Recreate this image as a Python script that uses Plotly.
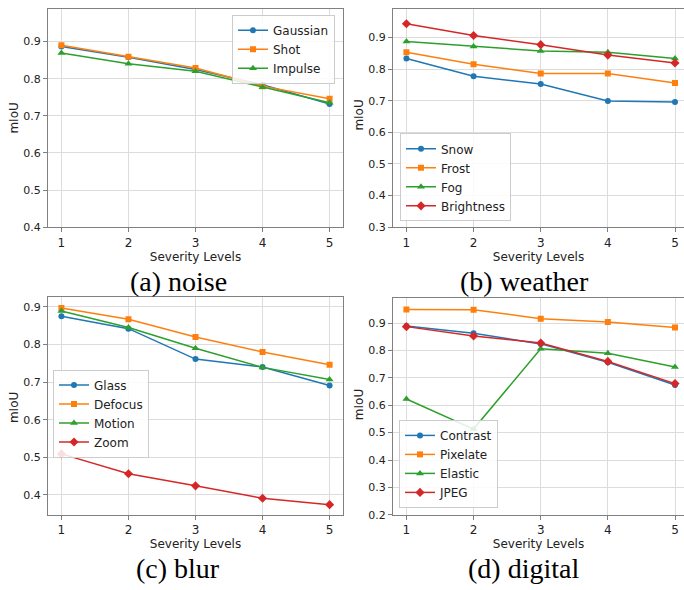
import plotly.graph_objects as go

levels = [1, 2, 3, 4, 5]

# (a) noise
gaussian = [0.887, 0.858, 0.825, 0.784, 0.732]
shot = [0.890, 0.859, 0.829, 0.780, 0.746]
impulse = [0.869, 0.840, 0.820, 0.777, 0.735]

# (b) weather
snow = [0.833, 0.777, 0.753, 0.699, 0.696]
frost = [0.853, 0.815, 0.786, 0.786, 0.756]
fog = [0.887, 0.871, 0.857, 0.853, 0.833]
brightness = [0.943, 0.906, 0.877, 0.844, 0.819]

# (c) blur
glass = [0.875, 0.842, 0.761, 0.740, 0.691]
defocus = [0.897, 0.867, 0.820, 0.780, 0.746]
motion = [0.889, 0.845, 0.790, 0.739, 0.707]
zoom = [0.509, 0.456, 0.424, 0.391, 0.374]

# (d) digital
contrast = [0.889, 0.863, 0.824, 0.757, 0.674]
pixelate = [0.950, 0.949, 0.916, 0.904, 0.884]
elastic = [0.623, 0.513, 0.806, 0.790, 0.740]
jpeg = [0.887, 0.853, 0.827, 0.760, 0.679]

captions = ["(a) noise", "(b) weather", "(c) blur", "(d) digital"]

C = ["#1f77b4", "#ff7f0e", "#2ca02c", "#d62728"]
SYM = ["circle", "square", "triangle-up", "diamond"]
MS = [6, 6, 7, 7]

W, H = 684, 590

panels = [
    ([("Gaussian", gaussian), ("Shot", shot), ("Impulse", impulse)], "x", "y", "legend"),
    ([("Snow", snow), ("Frost", frost), ("Fog", fog), ("Brightness", brightness)], "x2", "y2", "legend2"),
    ([("Glass", glass), ("Defocus", defocus), ("Motion", motion), ("Zoom", zoom)], "x3", "y3", "legend3"),
    ([("Contrast", contrast), ("Pixelate", pixelate), ("Elastic", elastic), ("JPEG", jpeg)], "x4", "y4", "legend4"),
]

fig = go.Figure()
for series, xa, ya, lg in panels:
    for i, (name, vals) in enumerate(series):
        fig.add_trace(go.Scatter(
            x=levels, y=vals, name=name, mode="lines+markers",
            xaxis=xa, yaxis=ya, legend=lg,
            line=dict(color=C[i], width=1.5),
            marker=dict(color=C[i], symbol=SYM[i], size=MS[i]),
        ))

FONT = "DejaVu Sans"
SPINE = "#808080"
GRID = "#dcdcdc"

def xd(a, b):
    return [a / W, b / W]

def yd(top, bot):
    return [1 - bot / H, 1 - top / H]

def xaxis(dom, rng, anchor):
    return dict(domain=dom, range=rng, anchor=anchor, tickvals=levels,
                showgrid=True, gridcolor=GRID, gridwidth=1,
                showline=True, linecolor=SPINE, linewidth=1, mirror=True,
                ticks="outside", ticklen=4, tickcolor=SPINE,
                tickfont=dict(family=FONT, size=12, color="#222"),
                title=dict(text="Severity Levels", standoff=2,
                           font=dict(family=FONT, size=12, color="#222")),
                zeroline=False)

def yaxis(dom, rng, anchor, mirror=True):
    return dict(domain=dom, range=rng, anchor=anchor, dtick=0.1, tick0=0,
                tickformat=".1f",
                showgrid=True, gridcolor=GRID, gridwidth=1,
                showline=True, linecolor=SPINE, linewidth=1, mirror=mirror,
                ticks="outside", ticklen=4, tickcolor=SPINE,
                tickfont=dict(family=FONT, size=11, color="#222"),
                zeroline=False)

leg_common = dict(bgcolor="rgba(255,255,255,0.85)", bordercolor="#cccccc", borderwidth=1,
                  font=dict(family=FONT, size=12, color="#222"), tracegroupgap=0)

fig.update_layout(
    width=W, height=H,
    margin=dict(l=0, r=0, t=0, b=0),
    paper_bgcolor="white", plot_bgcolor="white",
    xaxis=xaxis(xd(48, 343), [0.8, 5.2], "y"),
    yaxis=yaxis(yd(9, 230), [0.4, 0.988], "x"),
    xaxis2=xaxis(xd(393, 684), [0.8, 5.134], "y2"),
    yaxis2=yaxis(yd(9, 230), [0.3, 0.99], "x2", mirror=False),
    xaxis3=xaxis(xd(48, 343), [0.8, 5.2], "y3"),
    yaxis3=yaxis(yd(301, 521), [0.347, 0.925], "x3"),
    xaxis4=xaxis(xd(393, 684), [0.8, 5.134], "y4"),
    yaxis4=yaxis(yd(302, 521), [0.2, 0.99], "x4", mirror=False),
    legend=dict(x=335 / W, y=1 - 15 / H, xanchor="right", yanchor="top", **leg_common),
    legend2=dict(x=400 / W, y=1 - 224 / H, xanchor="left", yanchor="bottom", **leg_common),
    legend3=dict(x=53 / W, y=1 - 374 / H, xanchor="left", yanchor="top", **leg_common),
    legend4=dict(x=399 / W, y=1 - 514 / H, xanchor="left", yanchor="bottom", **leg_common),
    showlegend=True,
)

# y-axis titles
for (cx, cy) in [(14, 120), (359, 117), (14, 413), (359, 410)]:
    fig.add_annotation(text="mIoU", x=cx / W, y=1 - cy / H, xref="paper", yref="paper",
                       showarrow=False, textangle=-90, xanchor="center", yanchor="middle",
                       font=dict(family=FONT, size=12, color="#222"))

cap_pos = [(178, 285), (524, 285), (178, 575), (523, 575)]
for text, (cx, cy) in zip(captions, cap_pos):
    fig.add_annotation(text=text, x=cx / W, y=1 - cy / H, xref="paper", yref="paper",
                       showarrow=False, xanchor="center", yanchor="middle",
                       font=dict(family="Liberation Serif", size=28, color="black"))

fig.write_html("out.html")
